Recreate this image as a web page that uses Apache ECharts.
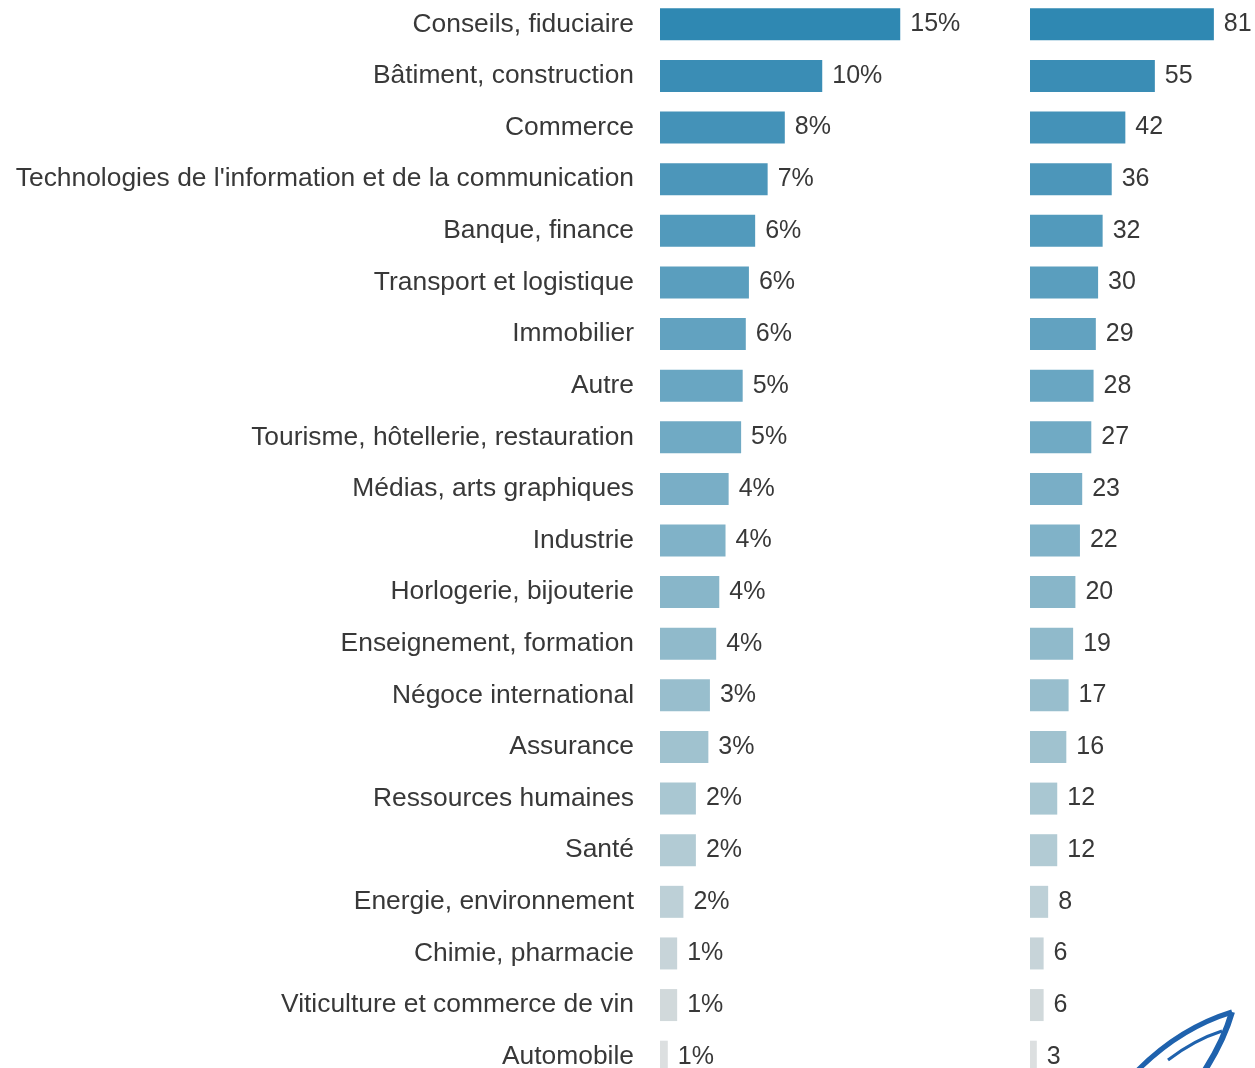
<!DOCTYPE html>
<html>
<head>
<meta charset="utf-8">
<script src="https://cdn.jsdelivr.net/npm/echarts@6/dist/echarts.min.js"></script>
<style>
  html, body { margin: 0; padding: 0; background: #fff; }
  #chart { width: 1255px; height: 1068px; }
</style>
</head>
<body>
<div id="chart"></div>
<script>
var categories = [
  'Conseils, fiduciaire', 'Bâtiment, construction', 'Commerce',
  "Technologies de l'information et de la communication", 'Banque, finance',
  'Transport et logistique', 'Immobilier', 'Autre',
  'Tourisme, hôtellerie, restauration', 'Médias, arts graphiques', 'Industrie',
  'Horlogerie, bijouterie', 'Enseignement, formation', 'Négoce international',
  'Assurance', 'Ressources humaines', 'Santé', 'Energie, environnement',
  'Chimie, pharmacie', 'Viticulture et commerce de vin', 'Automobile'
];
// share in % (bar length), label shows the rounded value
var shares = [15.4, 10.4, 8.0, 6.9, 6.1, 5.7, 5.5, 5.3, 5.2, 4.4, 4.2, 3.8, 3.6, 3.2, 3.1, 2.3, 2.3, 1.5, 1.1, 1.1, 0.5];
var counts = [81, 55, 42, 36, 32, 30, 29, 28, 27, 23, 22, 20, 19, 17, 16, 12, 12, 8, 6, 6, 3];

// bar colours, dark blue at the top fading to grey
var barColors = ['#2f88b2', '#3a8db5', '#4492b8', '#4c96ba', '#529abc', '#5a9ebe', '#62a2c0',
  '#69a6c2', '#70aac4', '#79aec6', '#80b2c8', '#88b6c9', '#90bacb', '#98becd', '#a0c2cf',
  '#a9c7d2', '#b2cbd4', '#bdd0d7', '#c7d4d9', '#d1d9db', '#dcdfe0'];

var chart = echarts.init(document.getElementById('chart'));
var font = '"Liberation Sans", Arial, sans-serif';

function colorOf(params) {
  return barColors[params.dataIndex];
}

chart.setOption({
  animation: false,
  grid: [
    { left: 660, top: -1.5, width: 312, height: 1084, outerBoundsMode: 'none' },
    { left: 1030, top: -1.5, width: 227, height: 1084, outerBoundsMode: 'none' }
  ],
  xAxis: [
    { gridIndex: 0, type: 'value', min: 0, max: 20, show: false },
    { gridIndex: 1, type: 'value', min: 0, max: 100, show: false }
  ],
  yAxis: [
    {
      gridIndex: 0, type: 'category', inverse: true, data: categories,
      axisLine: { show: false }, axisTick: { show: false },
      axisLabel: { margin: 26, color: '#383838', fontSize: 26.4, fontFamily: font }
    },
    {
      gridIndex: 1, type: 'category', inverse: true, data: categories,
      axisLine: { show: false }, axisTick: { show: false }, axisLabel: { show: false }
    }
  ],
  series: [
    {
      type: 'bar', xAxisIndex: 0, yAxisIndex: 0, barWidth: 32,
      data: shares,
      itemStyle: { color: colorOf },
      label: {
        show: true, position: 'right', distance: 10,
        color: '#383838', fontSize: 25, fontFamily: font,
        formatter: function (p) { return Math.round(p.value) + '%'; }
      }
    },
    {
      type: 'bar', xAxisIndex: 1, yAxisIndex: 1, barWidth: 32,
      data: counts,
      itemStyle: { color: colorOf },
      label: {
        show: true, position: 'right', distance: 10,
        color: '#383838', fontSize: 25, fontFamily: font
      }
    }
  ],
  // partial logo in the bottom right corner
  graphic: [
    { type: 'bezierCurve', shape: { x1: 1138, y1: 1070, cpx1: 1180, cpy1: 1028, x2: 1232, y2: 1012 },
      style: { fill: null, stroke: '#1f62ad', lineWidth: 5 } },
    { type: 'bezierCurve', shape: { x1: 1232, y1: 1012, cpx1: 1224, cpy1: 1040, x2: 1205, y2: 1070 },
      style: { fill: null, stroke: '#1f62ad', lineWidth: 6 } },
    { type: 'bezierCurve', shape: { x1: 1168, y1: 1060, cpx1: 1194, cpy1: 1040, x2: 1222, y2: 1031 },
      style: { fill: null, stroke: '#1f62ad', lineWidth: 3 } }
  ]
});
</script>
</body>
</html>
